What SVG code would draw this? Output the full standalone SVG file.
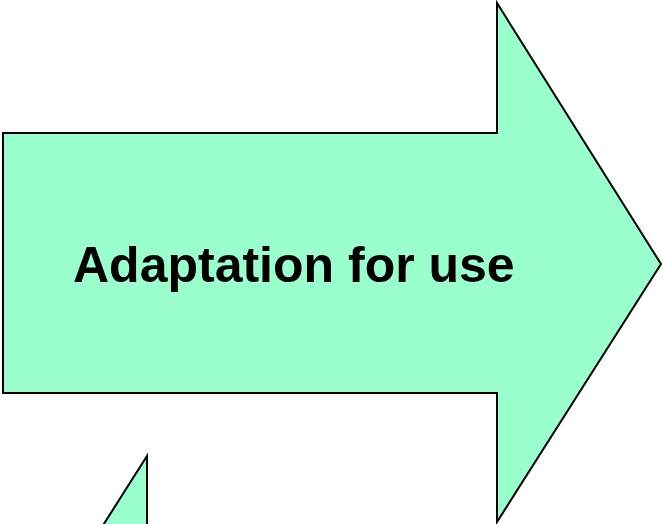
<svg xmlns="http://www.w3.org/2000/svg" width="663" height="524" viewBox="0 0 663 524">
<style>
.shape{fill:#99FFCC;stroke:#000000;stroke-width:2;stroke-linejoin:miter}
.lbl{font-family:"Liberation Sans",Arial,sans-serif;font-weight:bold;font-size:50px;fill:#000000}
</style>
<rect width="663" height="524" fill="#ffffff"/>
<g id="arrow-adaptation">
<polygon class="shape" points="3,133 497,133 497,3 661,264 497,522 497,393 3,393"/>
<text class="lbl" x="73" y="282">Adaptation for use</text>
</g>
<g id="arrow-partial">
<polygon class="shape" points="147,456 147,560 81,560"/>
</g>
<g id="connectors"></g>
</svg>
